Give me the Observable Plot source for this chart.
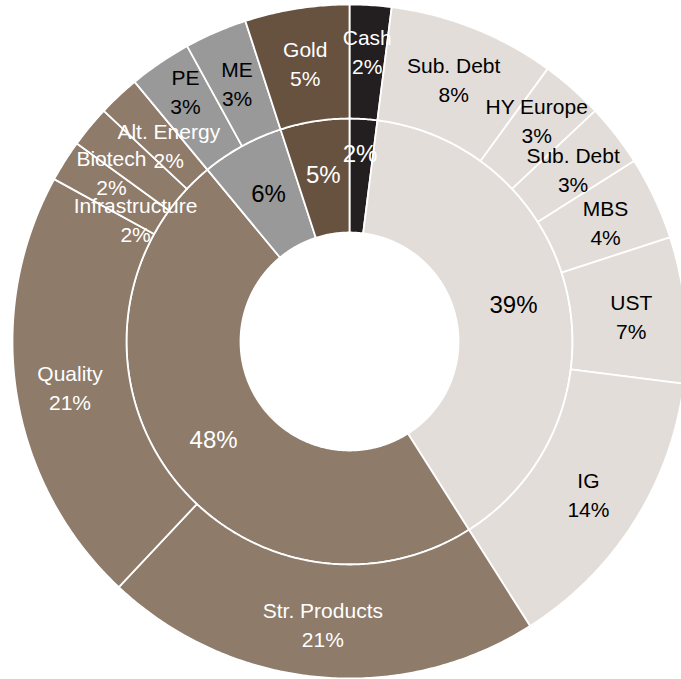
<!DOCTYPE html>
<html><head><meta charset="utf-8">
<script src="https://cdn.jsdelivr.net/npm/d3@7"></script>
<script src="https://cdn.jsdelivr.net/npm/@observablehq/plot@0.6"></script>
<style>body{margin:0;background:#fff;overflow:hidden}</style>
</head><body><div id="chart"></div>
<script>
// ---- data ----
const groups = ["Cash", "Fixed Income", "Equities", "Alternatives", "Gold"];
const groupValues = [2, 39, 48, 6, 5];
const segmentNames = ["Cash", "Sub. Debt", "HY Europe", "Sub. Debt", "MBS", "UST", "IG",
  "Str. Products", "Quality", "Infrastructure", "Biotech", "Alt. Energy", "PE", "ME", "Gold"];
const segmentValues = [2, 8, 3, 3, 4, 7, 14, 21, 21, 2, 2, 2, 3, 3, 5];
const segmentGroups = ["Cash", "Fixed Income", "Fixed Income", "Fixed Income", "Fixed Income",
  "Fixed Income", "Fixed Income", "Equities", "Equities", "Equities", "Equities", "Equities",
  "Alternatives", "Alternatives", "Gold"];

// ---- styles ----
const groupFill = {"Cash": "#231f20", "Fixed Income": "#e2ddd8", "Equities": "#8e7b6a",
  "Alternatives": "#999999", "Gold": "#675240"};
const groupText = {"Cash": "#ffffff", "Fixed Income": "#000000", "Equities": "#ffffff",
  "Alternatives": "#000000", "Gold": "#ffffff"};

// ---- layout ----
const W = 681, H = 679, cx = 349, cy = 341;
const R0 = 109, R1 = 223, R2 = 337;
const outerLabelR = 283, innerLabelR = 168;
// label nudges (px) for crowded labels, as the original placed them
const outerNudge = {0: [0, -9], 2: [0, -10], 9: [25, 28], 10: [-20, 10], 11: [13, 9], 12: [-5, -17]};
const innerNudge = {0: [0, -20]};

function wedge(id, a0, a1, r0, r1, fill) {
  const n = Math.max(4, Math.ceil((a1 - a0) * 720));
  const pts = [];
  for (let i = 0; i <= n; i++) {
    const t = 2 * Math.PI * (a0 + (a1 - a0) * i / n);
    pts.push({id, fill, x: r1 * Math.sin(t), y: r1 * Math.cos(t)});
  }
  for (let i = n; i >= 0; i--) {
    const t = 2 * Math.PI * (a0 + (a1 - a0) * i / n);
    pts.push({id, fill, x: r0 * Math.sin(t), y: r0 * Math.cos(t)});
  }
  pts.push({...pts[0]});
  return pts;
}

const rows = [];
const innerLabels = [];
const outerLabels = [];
const innerTotal = d3.sum(groupValues);
let acc = 0;
groupValues.forEach((v, i) => {
  const a0 = acc / innerTotal, a1 = (acc + v) / innerTotal;
  rows.push(...wedge("g" + i, a0, a1, R0, R1, groupFill[groups[i]]));
  const m = 2 * Math.PI * (a0 + a1) / 2;
  const nd = innerNudge[i] || [0, 0];
  innerLabels.push({x: innerLabelR * Math.sin(m) + nd[0], y: innerLabelR * Math.cos(m) - nd[1],
    text: v + "%", fill: groupText[groups[i]]});
  acc += v;
});
const outerTotal = d3.sum(segmentValues);
acc = 0;
segmentValues.forEach((v, i) => {
  const a0 = acc / outerTotal, a1 = (acc + v) / outerTotal;
  rows.push(...wedge("s" + i, a0, a1, R1, R2, groupFill[segmentGroups[i]]));
  const m = 2 * Math.PI * (a0 + a1) / 2;
  const nd = outerNudge[i] || [0, 0];
  outerLabels.push({x: outerLabelR * Math.sin(m) + nd[0], y: outerLabelR * Math.cos(m) - nd[1],
    text: segmentNames[i] + "\n" + v + "%", fill: groupText[segmentGroups[i]]});
  acc += v;
});

const chart = Plot.plot({
  width: W, height: H,
  margin: 0,
  x: {domain: [-cx, W - cx], axis: null},
  y: {domain: [-(H - cy), cy], axis: null},
  color: {type: "identity"},
  marks: [
    Plot.line(rows, {x: "x", y: "y", z: "id", fill: "fill", stroke: "#ffffff", strokeWidth: 1.8, curve: "linear"}),
    Plot.text(outerLabels, {x: "x", y: "y", text: "text", fill: "fill", fontSize: 21, lineHeight: 1.38,
      fontFamily: "'Liberation Sans Narrow', 'Arial Narrow', 'Liberation Sans', sans-serif"}),
    Plot.text(innerLabels, {x: "x", y: "y", text: "text", fill: "fill", fontSize: 24,
      fontFamily: "'Liberation Sans', Arial, sans-serif"})
  ]
});
document.getElementById("chart").appendChild(chart);
</script>
</body></html>
